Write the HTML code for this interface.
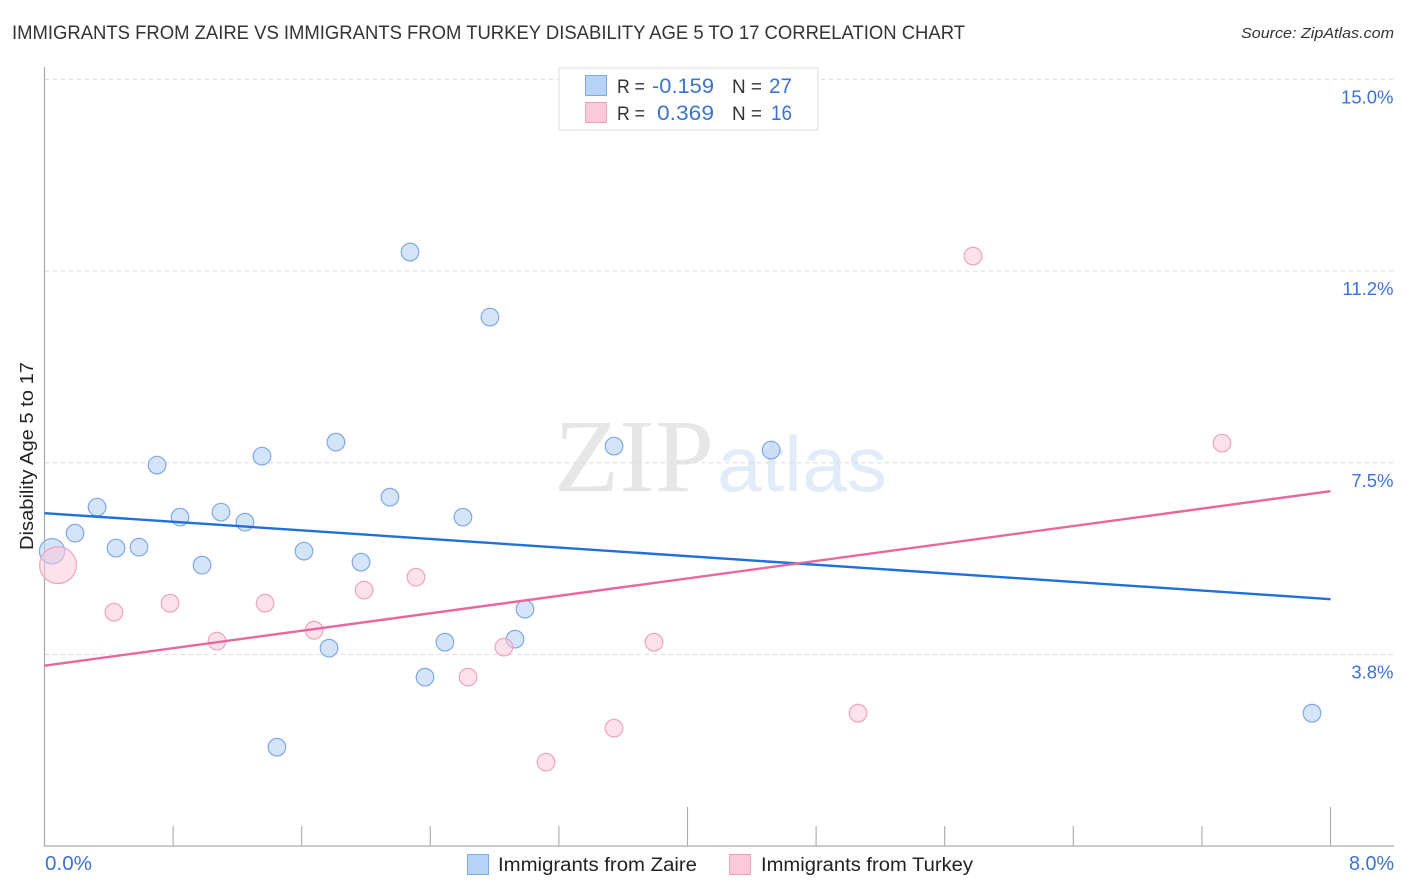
<!DOCTYPE html>
<html>
<head>
<meta charset="utf-8">
<title>Immigrants from Zaire vs Immigrants from Turkey</title>
<style>
html,body{margin:0;padding:0;background:#fff;}
svg{display:block;font-family:"Liberation Sans",sans-serif;}
</style>
</head>
<body>
<svg id="chart" width="1406" height="892" viewBox="0 0 1406 892" xmlns="http://www.w3.org/2000/svg">
<rect width="1406" height="892" fill="#ffffff"/>
<text x="12" y="39" font-size="19.5" fill="#333333" textLength="953" lengthAdjust="spacingAndGlyphs">IMMIGRANTS FROM ZAIRE VS IMMIGRANTS FROM TURKEY DISABILITY AGE 5 TO 17 CORRELATION CHART</text>
<text x="1241" y="38" font-size="15" font-style="italic" fill="#333333" textLength="153" lengthAdjust="spacingAndGlyphs">Source: ZipAtlas.com</text>
<text x="554" y="491" font-family="'Liberation Serif',serif" font-size="104" fill="#e6e6e6" textLength="160" lengthAdjust="spacingAndGlyphs">ZIP</text>
<text x="717" y="491" font-size="78" fill="#e2ecf9" textLength="170" lengthAdjust="spacingAndGlyphs">atlas</text>
<g id="grid"></g>
<g id="axes"></g>
<g id="zaire-points"></g>
<g id="turkey-points"></g>
<g id="trends"></g>
<g>
<rect x="559" y="68" width="259" height="62" fill="#ffffff" stroke="#dddddd" stroke-width="1"/>
<rect x="585.5" y="75.5" width="21" height="20" fill="#b9d3f6" stroke="#7fa8e6" stroke-width="1"/>
<rect x="585.5" y="102.5" width="21" height="20" fill="#fcc9da" stroke="#f2a0bc" stroke-width="1"/>
<text x="617" y="93" font-size="19" fill="#333333" textLength="28" lengthAdjust="spacingAndGlyphs">R =</text>
<text x="652" y="93" font-size="21" fill="#3b73d1" textLength="62" lengthAdjust="spacingAndGlyphs">-0.159</text>
<text x="732" y="93" font-size="19" fill="#333333" textLength="30" lengthAdjust="spacingAndGlyphs">N =</text>
<text x="769" y="93" font-size="21" fill="#3b73d1" textLength="23" lengthAdjust="spacingAndGlyphs">27</text>
<text x="617" y="120" font-size="19" fill="#333333" textLength="28" lengthAdjust="spacingAndGlyphs">R =</text>
<text x="657" y="120" font-size="21" fill="#3b73d1" textLength="57" lengthAdjust="spacingAndGlyphs">0.369</text>
<text x="732" y="120" font-size="19" fill="#333333" textLength="30" lengthAdjust="spacingAndGlyphs">N =</text>
<text x="771" y="120" font-size="21" fill="#3b73d1" textLength="21" lengthAdjust="spacingAndGlyphs">16</text>
</g>
<text transform="translate(33,550) rotate(-90)" font-size="18.5" fill="#222222" textLength="188" lengthAdjust="spacingAndGlyphs">Disability Age 5 to 17</text>
<g>
<rect x="467.5" y="854.5" width="21" height="20" fill="#b9d3f6" stroke="#7fa8e6" stroke-width="1"/>
<text x="498" y="871" font-size="19" fill="#222222" textLength="199" lengthAdjust="spacingAndGlyphs">Immigrants from Zaire</text>
<rect x="729.5" y="854.5" width="21" height="20" fill="#fcc9da" stroke="#f2a0bc" stroke-width="1"/>
<text x="761" y="871" font-size="19" fill="#222222" textLength="212" lengthAdjust="spacingAndGlyphs">Immigrants from Turkey</text>
</g>
</svg>
<script>
const zaireX = [0.047,0.190,0.327,0.445,0.588,0.700,0.843,0.980,1.098,1.247,1.353,1.446,1.614,1.770,1.813,1.969,2.149,2.274,2.367,2.491,2.603,2.771,2.927,2.989,3.543,4.520,7.885];
const zaireY = [5.770,6.124,6.633,5.831,5.850,7.455,6.437,5.498,6.535,6.339,7.631,1.937,5.772,3.874,7.904,5.557,6.828,11.622,3.307,3.991,6.437,10.350,4.050,4.637,7.826,7.748,2.602];
const zaireWeight = [3,1,1,1,1,1,1,1,1,1,1,1,1,1,1,1,1,1,1,1,1,1,1,1,1,1,1];
const turkeyX = [0.084,0.432,0.781,1.073,1.372,1.677,1.988,2.311,2.635,2.858,3.120,3.543,3.792,5.061,5.776,7.325];
const turkeyY = [5.498,4.578,4.754,4.011,4.754,4.226,5.009,5.263,3.307,3.894,1.644,2.309,3.991,2.602,11.544,7.885];
const turkeyWeight = [7,1,1,1,1,1,1,1,1,1,1,1,1,1,1,1];
const trendX = [0,8];
const zaireTrend = [6.515,4.833];
const turkeyTrend = [3.532,6.945];
const yTicks = [3.75,7.5,11.25,15];
const yTickLabels = ["3.8%","7.5%","11.2%","15.0%"];
const xTicks = [0.8,1.6,2.4,3.2,4,4.8,5.6,6.4,7.2,8];
const xMajorTicks = [4,8];
const xEndLabels = ["0.0%","8.0%"];

const NS = "http://www.w3.org/2000/svg";
const sx = v => 44.5 + v * 160.75;
const sy = v => 846.2 - v * 51.12;
function make(tag, parent, props) {
  const el = document.createElementNS(NS, tag);
  for (const k in props) el.setAttribute(k, props[k]);
  document.getElementById(parent).appendChild(el);
  return el;
}
yTicks.forEach((t, i) => {
  const g = make("line", "grid", {x1:45, x2:1393, y1:sy(t), y2:sy(t), stroke:"#dcdcdc", "stroke-width":1, "stroke-dasharray":"4 4"});
  
  
  const l = make("text", "grid", {x:1393.5, y:sy(t) + 24, "text-anchor":"end", "font-size":18.5, fill:"#3b73d1"});
  
  
  l.textContent = yTickLabels[i];
});
const yAxis = make("line", "axes", {x1:44.5, x2:44.5, y1:67, y2:846.5, stroke:"#aaaaaa", "stroke-width":1.2});


const xAxis = make("line", "axes", {x1:44, x2:1394, y1:846, y2:846, stroke:"#aaaaaa", "stroke-width":1.2});


xTicks.forEach(t => {
  const top = xMajorTicks.includes(t) ? 807 : 826;
  const k = make("line", "axes", {x1:sx(t), x2:sx(t), y1:top, y2:846, stroke:"#aaaaaa", "stroke-width":1.1});
  
  
});
const x0 = make("text", "axes", {x:45, y:870, "font-size":20, fill:"#3b73d1", textLength:47, lengthAdjust:"spacingAndGlyphs"});


x0.textContent = xEndLabels[0];
const x1 = make("text", "axes", {x:1349, y:870, "font-size":20, fill:"#3b73d1", textLength:45, lengthAdjust:"spacingAndGlyphs"});


x1.textContent = xEndLabels[1];
zaireX.forEach((x, i) => {
  const c = make("circle", "zaire-points", {cx:sx(x), cy:sy(zaireY[i]), r:8.8 * Math.sqrt(zaireWeight[i]) * (zaireWeight[i] > 1 ? 0.83 : 1), fill:"#b9d3f6", "fill-opacity":0.62, stroke:"#7fa8e6", "stroke-width":1.2});
  
  
});
turkeyX.forEach((x, i) => {
  const c = make("circle", "turkey-points", {cx:sx(x), cy:sy(turkeyY[i]), r:8.8 * Math.sqrt(turkeyWeight[i]) * (turkeyWeight[i] > 1 ? 0.79 : 1), fill:"#fcc9da", "fill-opacity":0.55, stroke:"#f0a3bd", "stroke-width":1.2});
  
  
});
const zt = make("line", "trends", {x1:sx(trendX[0]), x2:sx(trendX[1]), y1:sy(zaireTrend[0]), y2:sy(zaireTrend[1]), stroke:"#2070d8", "stroke-width":2.4});


const tt = make("line", "trends", {x1:sx(trendX[0]), x2:sx(trendX[1]), y1:sy(turkeyTrend[0]), y2:sy(turkeyTrend[1]), stroke:"#e8689b", "stroke-width":2.4});


</script>
</body>
</html>
